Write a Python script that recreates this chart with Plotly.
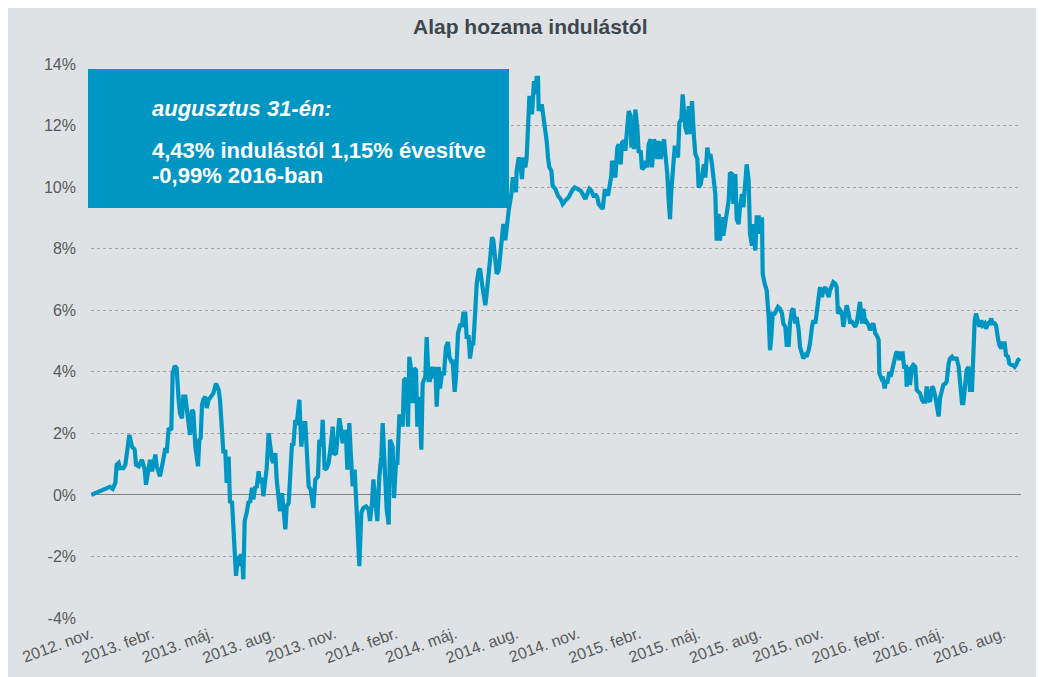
import pandas as pd
import plotly.graph_objects as go

# ---- data: (days since 2012-11-01, cumulative return in %) ----
start_date = "2012-11-01"

points_2012_13 = [
    (0, 0.0), (11, 0.09), (21, 0.17), (28, 0.26), (32, 0.2), (36, 0.39), (38, 0.98), (41, 1.04),
    (43, 0.87), (48, 0.87), (51, 0.98), (55, 1.84), (57, 1.95), (61, 1.57), (65, 1.47), (67, 0.98),
    (71, 0.93), (76, 1.14), (80, 0.82), (82, 0.33), (86, 0.82), (88, 1.14), (91, 0.77), (96, 1.31),
    (98, 0.93), (103, 0.6), (107, 1.04), (111, 1.52), (113, 1.36), (116, 2.17), (120, 2.11),
    (122, 3.95), (125, 4.19), (128, 4.11), (131, 3.09), (133, 2.65), (136, 2.49), (138, 3.19),
    (141, 3.19), (143, 2.82), (146, 2.22), (148, 1.95), (151, 2.76), (153, 2.7), (156, 1.57),
    (160, 0.93), (162, 1.79), (164, 1.84), (166, 2.92), (168, 3.09), (171, 3.19), (173, 2.82),
    (176, 3.09), (180, 3.25), (183, 3.3), (187, 3.62), (191, 3.41), (193, 3.09), (196, 1.63),
    (198, 1.41), (201, 1.41), (203, 0.39), (206, 1.25), (208, -0.26), (211, -0.2), (213, -0.9),
    (215, -1.77), (217, -2.63), (220, -1.98), (222, -2.31), (224, -1.98), (226, -1.98),
    (228, -2.74), (230, -0.85), (233, -0.58), (236, -0.2), (238, -0.25), (241, 0.23), (243, -0.15),
    (246, 0.28), (248, 0.23), (251, 0.77), (253, 0.39), (256, 0.55), (258, -0.04), (261, 0.44),
    (263, 0.87), (266, 2.0), (268, 1.57), (271, 1.14), (273, 1.04), (276, 1.36), (278, 0.5),
    (281, -0.37), (283, -0.53), (286, 0.06), (288, -0.42), (291, -1.12), (293, -0.37),
    (296, -0.26), (298, 0.5), (301, 1.68), (303, 1.6), (306, 2.44), (308, 2.28), (311, 3.03),
]

points_2013_14 = [
    (312, 3.09), (315, 1.57), (318, 2.33), (321, 2.33), (323, 1.47), (326, 0.28), (329, 0.17),
    (333, -0.42), (336, 0.5), (340, 0.6), (342, 1.79), (345, 1.57), (347, 2.44), (350, 0.82),
    (353, 0.87), (356, 1.04), (359, 1.57), (362, 2.22), (364, 1.31), (367, 1.36), (369, 1.79),
    (372, 2.49), (374, 2.22), (377, 1.68), (380, 2.11), (382, 1.9), (384, 0.82), (387, 2.33),
    (389, 1.41), (392, 0.28), (395, 0.82), (397, -0.26), (399, -1.07), (402, -2.31), (405, -0.58),
    (408, -0.42), (412, -0.37), (416, -0.47), (418, -0.85), (421, -0.26), (423, 0.5), (426, -0.15),
    (429, -0.85), (432, 0.6), (435, 1.25), (437, 2.33), (440, 1.14), (443, -0.47), (446, -0.96),
    (448, 1.79), (452, 1.57), (454, -0.1), (457, 1.04), (459, 1.04), (462, 2.55), (465, 2.55),
    (467, 2.22), (469, 3.73), (472, 3.79), (475, 2.22), (477, 4.49), (479, 4.16), (482, 2.98),
    (484, 4.11), (487, 4.06), (489, 2.22), (492, 3.19), (495, 1.47), (497, 3.62), (501, 3.84),
    (503, 5.13), (506, 3.73), (508, 3.73), (511, 4.16), (513, 3.79), (516, 4.16), (518, 2.87),
    (521, 4.16), (523, 3.46), (526, 3.95), (529, 3.95), (532, 4.81), (535, 4.97), (537, 4.49),
    (540, 4.33), (542, 4.33), (545, 3.35), (547, 3.84), (550, 5.24), (553, 5.51), (556, 5.51),
    (558, 5.89), (561, 5.89), (563, 5.13), (566, 5.13), (568, 4.43), (571, 4.92), (573, 4.92),
    (576, 6.0), (578, 6.86), (581, 7.29), (583, 7.35), (586, 6.86), (588, 6.54), (591, 6.16),
    (593, 6.54), (596, 7.08), (598, 7.62), (601, 8.37), (603, 8.27), (606, 7.62), (608, 7.18),
    (611, 7.29), (613, 7.83), (616, 8.64), (618, 8.8), (621, 8.27), (623, 8.7), (626, 9.23),
]

points_2014_15 = [
    (630, 9.77), (632, 10.26), (635, 10.26), (637, 9.83), (638, 10.53), (641, 10.96), (643, 10.85),
    (646, 10.26), (648, 10.96), (651, 10.64), (653, 10.96), (655, 11.77), (657, 12.9), (660, 12.9),
    (661, 12.36), (664, 13.44), (666, 13.01), (668, 13.55), (670, 13.55), (671, 12.47), (673, 12.63),
    (676, 12.63), (678, 12.36), (681, 11.93), (683, 11.5), (685, 10.96), (687, 10.64), (690, 10.53),
    (692, 10.04), (696, 9.94), (700, 9.72), (704, 9.61), (707, 9.45), (711, 9.56), (716, 9.67),
    (721, 9.88), (725, 9.99), (729, 9.94), (734, 9.88), (737, 9.77), (741, 9.61), (744, 9.77),
    (747, 9.94), (750, 9.88), (754, 9.67), (756, 9.77), (759, 9.67), (761, 9.45), (765, 9.34),
    (767, 9.29), (770, 9.88), (772, 9.88), (775, 9.72), (777, 9.99), (780, 10.37), (781, 10.85),
    (784, 10.64), (786, 10.31), (789, 11.28), (791, 11.39), (794, 10.74), (796, 11.44), (799, 11.5),
    (801, 11.18), (804, 11.93), (806, 12.47), (809, 12.31), (810, 11.28), (812, 11.93), (814, 11.23),
    (816, 12.52), (819, 11.93), (821, 11.12), (824, 11.18), (826, 10.58), (829, 10.64), (831, 10.85),
    (834, 10.64), (836, 11.39), (839, 11.55), (841, 10.64), (844, 11.55), (846, 11.39), (849, 10.91),
    (851, 11.5), (854, 10.91), (856, 11.28), (859, 11.55), (861, 11.07), (864, 10.42), (866, 9.56),
    (868, 8.96), (870, 9.88), (872, 10.53), (875, 11.28), (877, 11.28), (880, 10.96), (882, 12.09),
    (885, 12.2), (887, 13.01), (889, 12.36), (891, 11.93), (894, 11.72), (896, 12.63), (899, 11.72),
    (901, 12.79), (904, 11.61), (906, 11.07), (909, 10.91), (911, 9.99), (914, 10.09), (916, 10.42),
    (919, 10.74), (921, 10.31), (924, 11.28), (926, 11.01), (929, 11.01), (931, 10.74), (934, 10.04),
    (936, 9.77), (938, 8.26), (941, 9.13), (943, 8.26), (946, 9.02), (948, 8.42), (951, 8.8),
    (953, 9.13), (956, 9.56), (958, 10.47), (961, 10.42), (963, 9.45), (966, 10.42), (968, 8.96),
    (971, 8.8), (973, 9.34), (976, 9.77), (978, 9.34), (981, 10.2), (983, 10.74), (986, 10.2),
    (988, 8.48), (991, 8.1), (993, 8.8), (996, 7.94), (998, 9.02), (1001, 9.02), (1003, 8.48),
    (1006, 9.02),
]

points_2015_16 = [
    (1007, 7.18), (1010, 6.86), (1013, 6.65), (1016, 5.78), (1018, 4.7), (1020, 5.13), (1022, 5.89),
    (1025, 5.89), (1027, 6.0), (1030, 6.11), (1033, 6.05), (1036, 5.89), (1038, 5.57), (1041, 5.46),
    (1043, 4.87), (1046, 4.87), (1048, 5.57), (1051, 6.0), (1053, 6.05), (1056, 5.57), (1058, 5.78),
    (1061, 5.35), (1063, 4.81), (1066, 4.49), (1068, 4.43), (1071, 4.54), (1073, 4.49), (1076, 4.7),
    (1078, 4.92), (1081, 5.46), (1083, 5.67), (1086, 5.57), (1088, 5.89), (1091, 6.54), (1093, 6.75),
    (1096, 6.43), (1098, 6.65), (1101, 6.75), (1103, 6.65), (1106, 6.43), (1108, 6.65), (1111, 6.86),
    (1113, 6.91), (1116, 6.86), (1118, 6.75), (1120, 5.89), (1123, 6.0), (1126, 5.89), (1128, 5.46),
    (1131, 5.89), (1133, 6.16), (1136, 5.89), (1138, 5.62), (1141, 5.62), (1143, 5.57), (1146, 5.46),
    (1148, 5.57), (1151, 5.89), (1153, 6.27), (1156, 5.57), (1158, 6.05), (1161, 5.57), (1163, 5.62),
    (1166, 5.51), (1168, 5.35), (1171, 5.51), (1173, 5.57), (1176, 5.24), (1178, 5.19), (1181, 5.03),
    (1182, 3.95), (1185, 3.79), (1187, 3.84), (1190, 3.46), (1192, 3.73), (1194, 3.62), (1197, 4.0),
    (1199, 3.84), (1202, 4.16), (1204, 4.27), (1207, 4.6), (1209, 4.65), (1212, 4.38), (1214, 4.6),
    (1217, 4.6), (1219, 4.16), (1222, 4.16), (1223, 3.52), (1226, 4.16), (1228, 3.57), (1231, 4.16),
    (1233, 4.22), (1236, 4.16), (1238, 3.41), (1241, 3.35), (1243, 3.3), (1246, 3.09), (1248, 3.03),
    (1251, 3.03), (1253, 3.52), (1256, 3.09), (1258, 3.03), (1261, 3.52), (1263, 3.46), (1266, 3.19),
    (1268, 2.98), (1271, 2.55), (1273, 3.14), (1276, 3.41), (1278, 3.57), (1281, 3.62), (1283, 3.68),
    (1286, 4.27), (1288, 4.43), (1291, 4.49), (1293, 4.43), (1296, 4.43), (1298, 4.43), (1301, 4.16),
    (1303, 3.62), (1306, 2.98), (1308, 2.98), (1311, 3.52), (1313, 4.06), (1316, 4.16), (1318, 3.41),
    (1321, 3.41), (1323, 4.7), (1325, 5.67), (1327, 5.89), (1330, 5.57), (1332, 5.46), (1335, 5.67),
    (1337, 5.51), (1340, 5.57), (1342, 5.4), (1345, 5.57), (1347, 5.57), (1350, 5.73), (1352, 5.57),
    (1355, 5.57), (1357, 5.51), (1360, 5.08), (1362, 4.87), (1365, 4.76), (1367, 4.92), (1370, 4.92),
    (1372, 4.54), (1375, 4.49), (1377, 4.27), (1380, 4.22), (1382, 4.22), (1385, 4.16), (1387, 4.22),
    (1390, 4.38), (1393, 4.43),
]

tick_dates = ["2012-11-01", "2013-02-01", "2013-05-01", "2013-08-01", "2013-11-01", "2014-02-01",
              "2014-05-01", "2014-08-01", "2014-11-01", "2015-02-01", "2015-05-01", "2015-08-01",
              "2015-11-01", "2016-02-01", "2016-05-01", "2016-08-01"]
tick_labels = ["2012. nov.", "2013. febr.", "2013. máj.", "2013. aug.", "2013. nov.", "2014. febr.",
               "2014. máj.", "2014. aug.", "2014. nov.", "2015. febr.", "2015. máj.", "2015. aug.",
               "2015. nov.", "2016. febr.", "2016. máj.", "2016. aug."]
y_ticks = [-4, -2, 0, 2, 4, 6, 8, 10, 12, 14]
y_labels = ["-4%", "-2%", "0%", "2%", "4%", "6%", "8%", "10%", "12%", "14%"]

title_text = "Alap hozama indulástól"
box_lines = ["<b><i>augusztus 31-én:</i></b>",
             "<b>4,43% indulástól 1,15% évesítve</b>",
             "<b>-0,99% 2016-ban</b>"]

# ---- build ----
all_points = points_2012_13 + points_2013_14 + points_2014_15 + points_2015_16
days = [p[0] for p in all_points]
vals = [p[1] for p in all_points]
dates = pd.Timestamp(start_date) + pd.to_timedelta(days, unit="D")

# page body has an 8px margin: the figure sits at (8, 8) in the window
OFF = 8
W, H = 1044 - OFF, 677 - OFF
ML, MR, MT, MB = 91 - OFF, 23, 63 - OFF, 58
PW, PH = W - ML - MR, H - MT - MB


def px(x):  # window pixel -> paper x
    return (x - OFF - ML) / PW


def py(y):  # window pixel -> paper y
    return (H - MB - (y - OFF)) / PH


BLUE = "#0096c4"
BG = "#dee2e5"
FONT = "Liberation Sans, Arial, sans-serif"

fig = go.Figure()
fig.add_trace(go.Scatter(x=dates, y=vals, mode="lines",
                         line=dict(color=BLUE, width=4.2), hoverinfo="skip", showlegend=False))

fig.update_layout(
    width=W, height=H,
    margin=dict(l=ML, r=MR, t=MT, b=MB, autoexpand=False),
    paper_bgcolor=BG,
    plot_bgcolor="rgba(0,0,0,0)",
    font=dict(family=FONT, size=16, color="#595959"),
    showlegend=False,
)

fig.update_xaxes(
    type="date",
    range=[pd.Timestamp(start_date) - pd.Timedelta(hours=12),
           pd.Timestamp(start_date) + pd.Timedelta(days=1394.5)],
    tickmode="array", tickvals=tick_dates, ticktext=tick_labels,
    tickangle=-20, showgrid=False, zeroline=False, showline=False, ticks="",
    tickfont=dict(family=FONT, size=16, color="#595959"),
    ticklabelstandoff=2,
)
fig.update_yaxes(
    range=[-4.03, 14.03],
    tickmode="array", tickvals=y_ticks, ticktext=y_labels,
    showgrid=True, gridcolor="#a6a6a6", griddash="dot", gridwidth=1,
    zeroline=True, zerolinecolor="#808080", zerolinewidth=1.3,
    showline=False, ticks="",
    tickfont=dict(family=FONT, size=16, color="#595959"),
    ticklabelstandoff=14,
)

shapes = [
    dict(type="rect", xref="paper", yref="paper", layer="above",
         x0=px(88), x1=px(509), y0=py(208), y1=py(69),
         fillcolor=BLUE, line=dict(width=0)),
]
fig.update_layout(shapes=shapes)

annotations = [
    dict(text="<b>" + title_text + "</b>", xref="paper", yref="paper",
         x=px(530), y=py(27), xanchor="center", yanchor="middle", showarrow=False,
         font=dict(family=FONT, size=21, color="#3e474d")),
]
for txt, yc in zip(box_lines, [108, 150, 176]):
    annotations.append(dict(text=txt, xref="paper", yref="paper", x=px(150), y=py(yc),
                            xanchor="left", yanchor="middle", showarrow=False,
                            font=dict(family=FONT, size=22, color="white")))
fig.update_layout(annotations=annotations)

fig.write_html("out.html")
